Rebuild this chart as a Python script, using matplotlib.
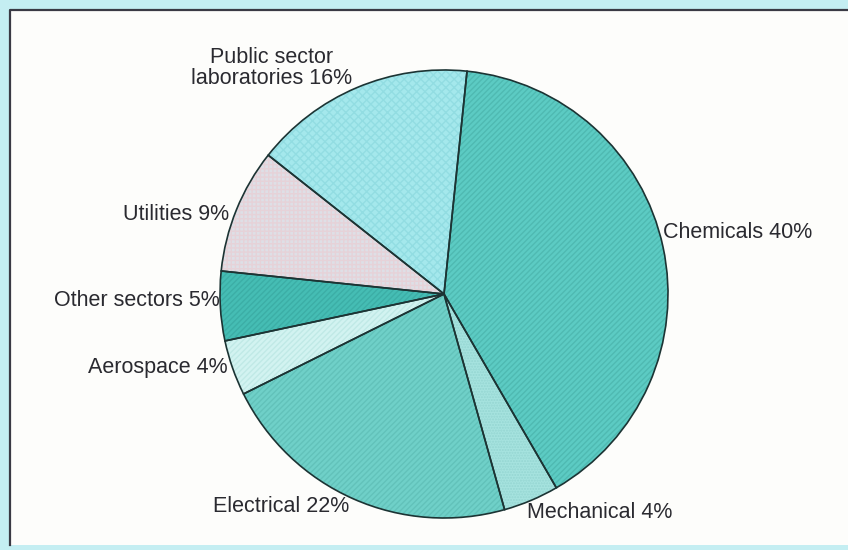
import matplotlib.pyplot as plt
from matplotlib.patches import Rectangle

plt.rcParams['font.family'] = ['Liberation Sans', 'DejaVu Sans']

# Shares of spending by sector, clockwise from the top
sectors = ['Chemicals', 'Mechanical', 'Electrical', 'Aerospace',
           'Other sectors', 'Utilities', 'Public sector\nlaboratories']
shares = [40, 4, 22, 4, 5, 9, 16]

colors = ['#5ccbc3', '#a6e3df', '#6fd0c8', '#d2f3f1',
          '#45bdb4', '#dedfe6', '#a4e8ec']
hatchColors = ['#4fbab2', '#95d6d2', '#62c2ba', '#c0e9e6',
               '#3caea6', '#e6d2d8', '#92dde2']
hatches = ['//////', '......', '//////', '//////', '//////', '++++', 'xxxx']

# label anchor (x, y) and alignment, in pixel-like axes units
labelPos = [(663, 318, 'left', 'center'),
            (527, 37, 'left', 'center'),
            (281, 43, 'center', 'center'),
            (228, 183, 'right', 'center'),
            (220, 250, 'right', 'center'),
            (229, 336, 'right', 'center'),
            (272, 482, 'center', 'center')]

fig = plt.figure(figsize=(8.48, 5.5), dpi=100)
fig.patch.set_facecolor('#c4eef2')
ax = fig.add_axes([0, 0, 1, 1])

# white panel with border on top and left
ax.add_patch(Rectangle((10, 5), 850, 535, facecolor='#fdfdfb', edgecolor='none', zorder=0))
ax.plot([10, 10, 848], [5, 540, 540], color='#3a3a44', lw=1.6, zorder=1)

center = (444, 256)
radius = 224
startAngle = 84.1

wedges, _ = ax.pie(shares, colors=colors, startangle=startAngle, counterclock=False,
                   center=center, radius=radius, frame=True,
                   wedgeprops=dict(linewidth=0))
for w in wedges:
    w.set_zorder(1.2)

# fine print texture laid over each slice
hw, _ = ax.pie(shares, colors=['none'] * len(shares), startangle=startAngle,
               counterclock=False, center=center, radius=radius, frame=True,
               wedgeprops=dict(linewidth=0))
for w, h, hc in zip(hw, hatches, hatchColors):
    w.set_hatch(h)
    w.set_edgecolor(hc)
    w.set_facecolor('none')
    w.set_zorder(1.5)

# slice outlines on top
ow, _ = ax.pie(shares, colors=['none'] * len(shares), startangle=startAngle,
               counterclock=False, center=center, radius=radius, frame=True,
               wedgeprops=dict(edgecolor='#1c3434', linewidth=1.2, facecolor='none'))
for w in ow:
    w.set_zorder(2)

ax.set_xlim(0, 848)
ax.set_ylim(0, 550)
ax.set_aspect('equal')
ax.axis('off')

for name, val, (x, y, ha, va) in zip(sectors, shares, labelPos):
    ax.text(x, y, '%s %d%%' % (name, val), ha=ha, va=va, fontsize=15.5,
            color='#2a2a30', linespacing=1.05, zorder=3)

fig.savefig('out.png', dpi=100, facecolor=fig.get_facecolor())
